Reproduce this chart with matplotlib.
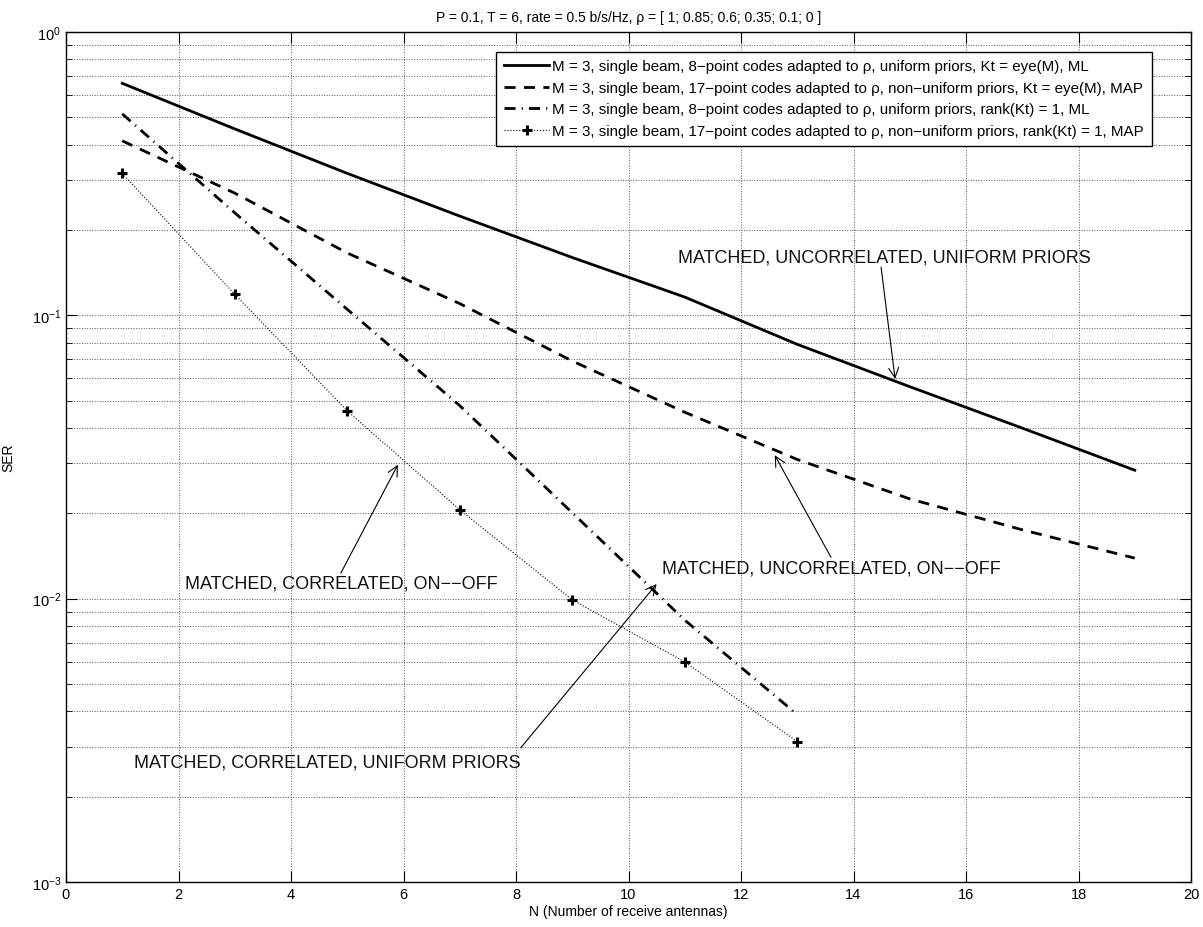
import numpy as np
import matplotlib
matplotlib.use('Agg')
import matplotlib.pyplot as plt
from matplotlib.ticker import LogLocator, NullFormatter

plt.rcParams['font.family'] = ['Liberation Sans', 'DejaVu Sans']
plt.rcParams['mathtext.fontset'] = 'custom'
plt.rcParams['mathtext.rm'] = 'Liberation Sans'
plt.rcParams['mathtext.it'] = 'Liberation Sans'

# --- data ---
n_long = [1, 3, 5, 7, 9, 11, 13, 15, 17, 19]
ser_ml_eye = [0.659, 0.455, 0.317, 0.224, 0.160, 0.116, 0.079, 0.056, 0.040, 0.0284]
ser_map_eye = [0.413, 0.27, 0.166, 0.11, 0.069, 0.0455, 0.031, 0.0225, 0.0175, 0.0139]

n_short = [1, 3, 5, 7, 9, 11, 13]
ser_ml_rank1 = [0.514, 0.23, 0.105, 0.048, 0.0201, 0.0084, 0.0039]
ser_map_rank1 = [0.317, 0.1187, 0.046, 0.0206, 0.0099, 0.00598, 0.00313]

labels = [
    'M = 3, single beam, 8\u2212point codes adapted to \u03c1, uniform priors, Kt = eye(M), ML',
    'M = 3, single beam, 17\u2212point codes adapted to \u03c1, non\u2212uniform priors, Kt = eye(M), MAP',
    'M = 3, single beam, 8\u2212point codes adapted to \u03c1, uniform priors, rank(Kt) = 1, ML',
    'M = 3, single beam, 17\u2212point codes adapted to \u03c1, non\u2212uniform priors, rank(Kt) = 1, MAP',
]

# annotation text, text anchor (left, centre), arrow start, arrow tip
notes = [
    ('MATCHED, UNCORRELATED, UNIFORM PRIORS', (10.88, 0.1607), (14.49, 0.148), (14.74, 0.0596)),
    ('MATCHED, UNCORRELATED, ON\u2212\u2212OFF', (10.6, 0.01282), (13.6, 0.01399), (12.6, 0.0321)),
    ('MATCHED, CORRELATED, ON\u2212\u2212OFF', (2.11, 0.01133), (4.885, 0.0123), (5.9, 0.0297)),
    ('MATCHED, CORRELATED, UNIFORM PRIORS', (1.2, 0.00265), (8.087, 0.00298), (10.5, 0.01126)),
]

title = 'P = 0.1, T = 6, rate = 0.5 b/s/Hz, \u03c1 = [ 1; 0.85; 0.6; 0.35; 0.1; 0 ]'

fig = plt.figure(figsize=(12.03, 9.28), dpi=100)
ax = fig.add_axes([66 / 1203, 1 - 883 / 928, 1125 / 1203, 850 / 928])

ax.semilogy(n_long, ser_ml_eye, color='k', lw=2.0, label=labels[0])
ax.semilogy(n_long, ser_map_eye, color='k', lw=2.0, dashes=(4, 3), label=labels[1])
ax.semilogy(n_short, ser_ml_rank1, color='k', lw=2.0, dashes=(4, 2.2, 0.4, 2.2), label=labels[2])
ax.semilogy(n_short, ser_map_rank1, color='k', lw=0.8, ls=':', marker='+',
            markersize=7, mew=2.2, label=labels[3])

ax.set_xlim(0, 20)
ax.set_ylim(1e-3, 1)
ax.set_xticks(np.arange(0, 21, 2))
ax.yaxis.set_major_locator(LogLocator(base=10, numticks=10))
ax.yaxis.set_minor_locator(LogLocator(base=10, subs=np.arange(2, 10), numticks=10))
ax.yaxis.set_minor_formatter(NullFormatter())

ax.grid(True, which='major', axis='x', ls=':', color='#555555', lw=0.7)
ax.grid(True, which='both', axis='y', ls=':', color='#555555', lw=0.7)
ax.tick_params(which='both', direction='in', top=True, right=True, labelsize=10.5)
ax.tick_params(which='major', length=8, width=0.8)
ax.tick_params(which='minor', length=4, width=0.6)
for s in ax.spines.values():
    s.set_linewidth(1.0)

ax.set_xlabel('N (Number of receive antennas)', fontsize=10, labelpad=2)
ax.set_ylabel('SER', fontsize=10, labelpad=12)
ax.set_title(title, fontsize=10, pad=8)

for txt, pos, start, tip in notes:
    ax.text(pos[0], pos[1], txt, fontsize=13, ha='left', va='center', color='#111111')
    ax.annotate('', xy=tip, xytext=start,
                arrowprops=dict(arrowstyle='->', color='k', lw=0.8,
                                mutation_scale=18, shrinkA=0, shrinkB=0))

leg = ax.legend(loc='upper right', bbox_to_anchor=(0.965, 0.9768), borderaxespad=0,
                fontsize=10.9, handlelength=3.0, handletextpad=0.2, labelspacing=0.5,
                borderpad=0.5, fancybox=False, framealpha=1, edgecolor='k')
leg.get_frame().set_linewidth(1.0)

fig.savefig('out.png', dpi=100)
